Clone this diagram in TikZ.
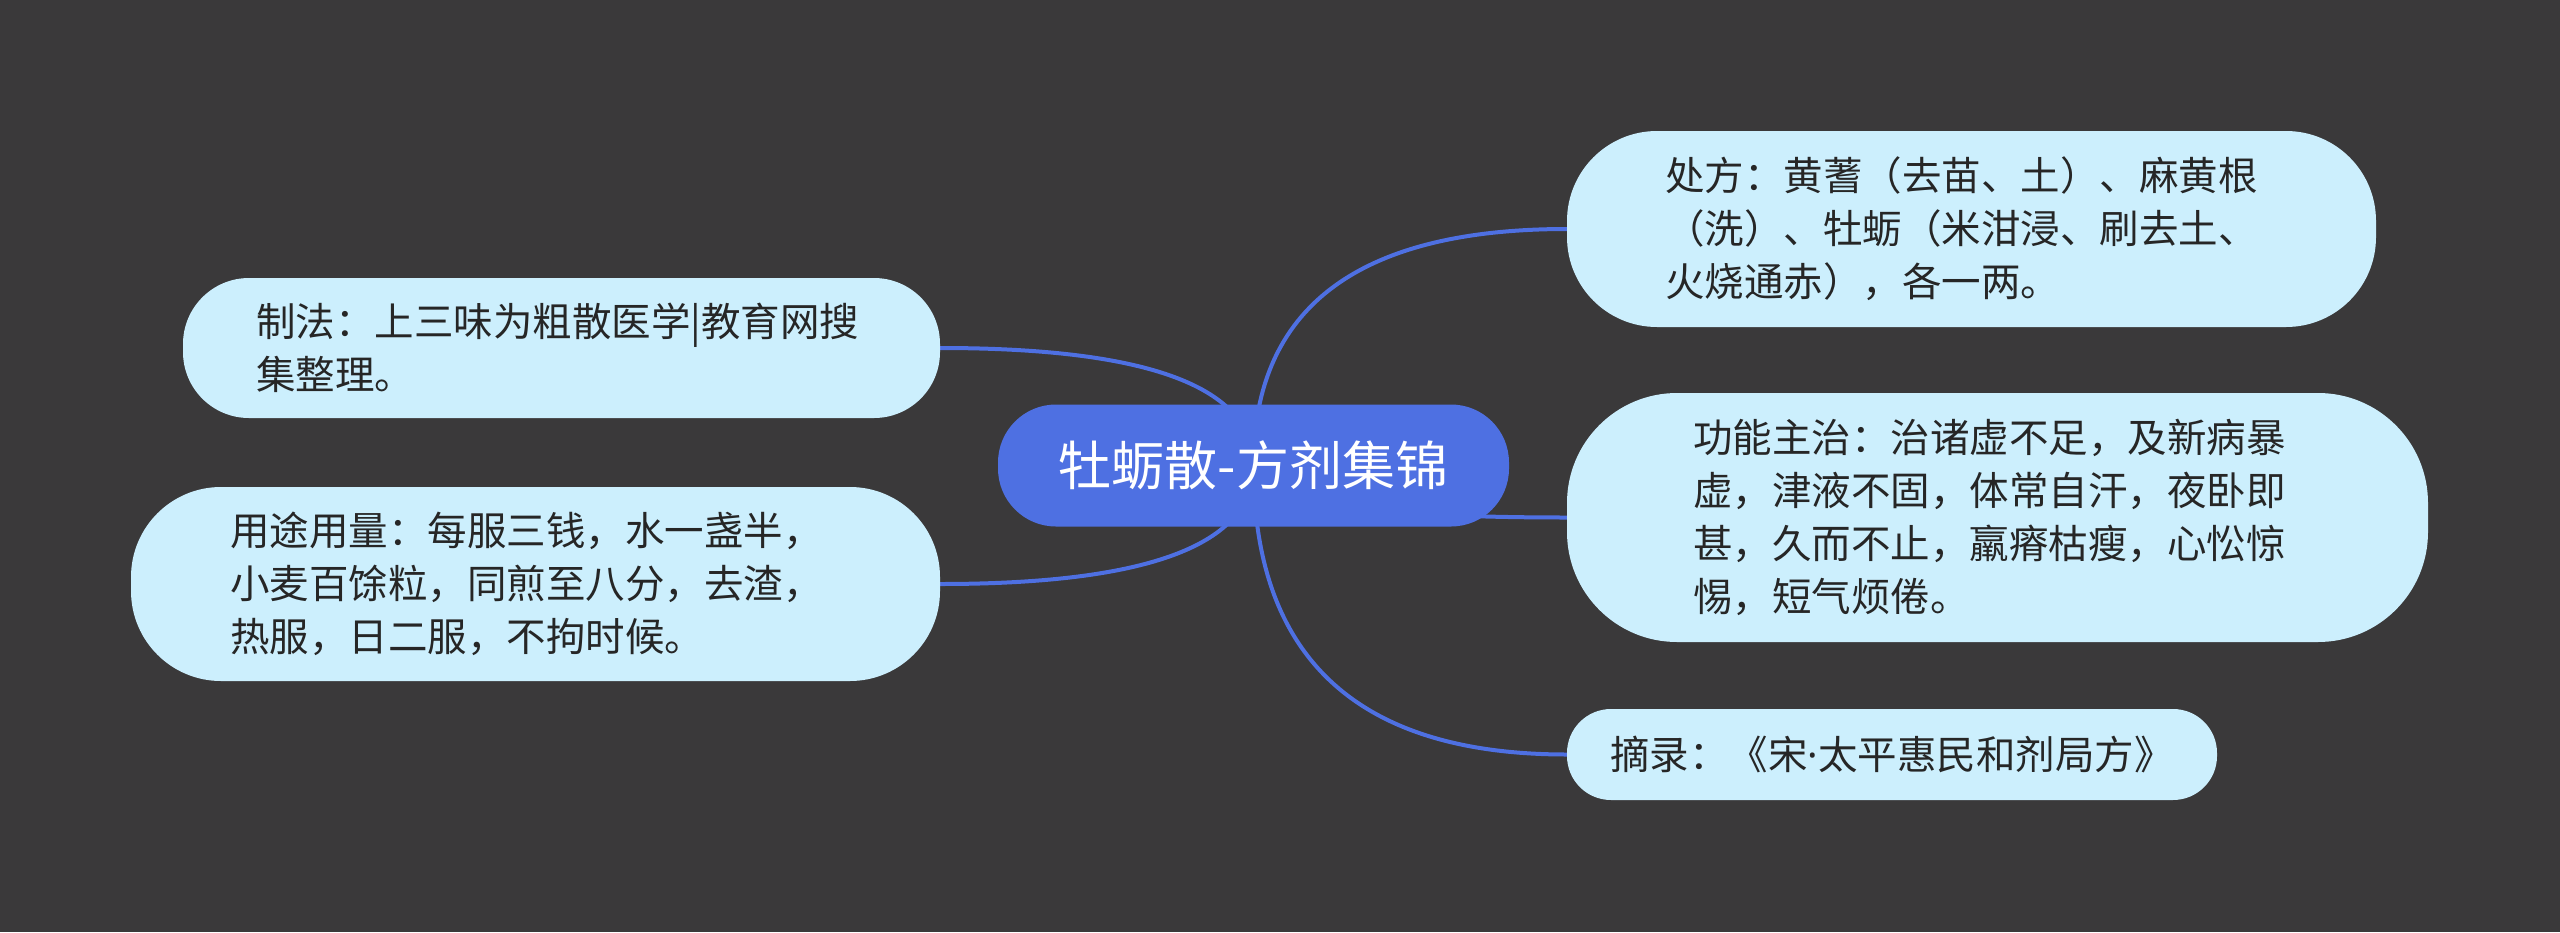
\documentclass[tikz,border=0pt]{standalone}
\usepackage{fontspec}
\setmainfont{Noto Sans CJK SC}
\newfontfamily\latinfont{Noto Sans}
\usetikzlibrary{calc,backgrounds}
\definecolor{bg}{HTML}{3A393A}
\definecolor{hub}{HTML}{4E70E2}
\definecolor{leaf}{HTML}{CCEFFD}
\definecolor{ink}{HTML}{262626}
\definecolor{wire}{HTML}{4E70E2}
\begin{document}
\begin{tikzpicture}[x=1pt,y=-1pt,
  leafbox/.style={fill=leaf, text=ink, align=left, inner sep=0pt,
    font=\fontsize{39.5}{53}\selectfont},
  hubbox/.style={fill=hub, text=white, inner sep=0pt,
    font=\fontsize{53}{60}\selectfont, minimum width=511pt,
    minimum height=122pt, rounded corners=58pt},
  wirestyle/.style={draw=wire, line width=4pt},
  hubwire/.style={to path={.. controls ($(\tikztostart)!0.667!(\tikztostart |- \tikztotarget)$) and ($(\tikztotarget)!0.667!(\tikztostart |- \tikztotarget)$) .. (\tikztotarget)}}]
\useasboundingbox (0,0) rectangle (2560,932);

\node[hubbox] (c) at (1253.5,465.5) {牡蛎散-方剂集锦};

\node[leafbox, minimum width=809pt, minimum height=196pt, rounded corners=90pt, text width=613pt]
  (n1) at (1971.5,229) {处方：黄蓍（去苗、土）、麻黄根\\（洗）、牡蛎（米泔浸、刷去土、\\火烧通赤），各一两。};
\node[leafbox, minimum width=861pt, minimum height=249pt, rounded corners=110pt, text width=609pt]
  (n2) at (1997.5,517.5) {功能主治：治诸虚不足，及新病暴\\虚，津液不固，体常自汗，夜卧即\\甚，久而不止，羸瘠枯瘦，心忪惊\\惕，短气烦倦。};
\node[leafbox, minimum width=650pt, minimum height=91pt, rounded corners=44pt]
  (n3) at (1892,754.5) {摘录：《宋{\latinfont ·}太平惠民和剂局方》};
\node[leafbox, minimum width=757pt, minimum height=140pt, rounded corners=66pt, text width=611pt]
  (n4) at (561.5,348) {制法：上三味为粗散医学|教育网搜\\集整理。};
\node[leafbox, minimum width=809pt, minimum height=194pt, rounded corners=90pt, text width=611pt]
  (n5) at (535.5,584) {用途用量：每服三钱，水一盏半，\\小麦百馀粒，同煎至八分，去渣，\\热服，日二服，不拘时候。};

\begin{pgfonlayer}{background}
  \fill[bg] (0,0) rectangle (2560,932);
  \draw[wirestyle, hubwire] (c.center) to (n1.west);
  \draw[wirestyle, hubwire] (c.center) to (n2.west);
  \draw[wirestyle, hubwire] (c.center) to (n3.west);
  \draw[wirestyle, hubwire] (c.center) to (n4.east);
  \draw[wirestyle, hubwire] (c.center) to (n5.east);
\end{pgfonlayer}
\end{tikzpicture}
\end{document}
